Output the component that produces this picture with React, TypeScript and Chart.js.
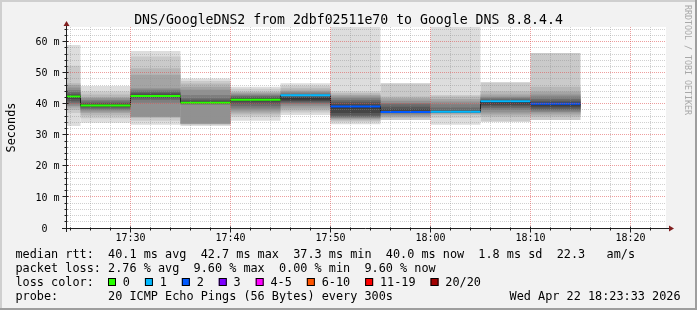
import React, { useEffect, useRef } from "react";
import { Chart, registerables } from "chart.js";

Chart.register(...registerables);

// ---------------- data ----------------
const TITLE = "DNS/GoogleDNS2 from 2dbf02511e70 to Google DNS 8.8.4.4";
const Y_AXIS_TITLE = "Seconds";
const WATERMARK = "RRDTOOL / TOBI OETIKER";

const GRAPH_END = "18:23:33";
const GRAPH_SPAN_MIN = 60;
const STEP_MIN = 5;

// end time of each 5-minute step
const STEP_END = ["17:25", "17:30", "17:35", "17:40", "17:45", "17:50", "17:55", "18:00", "18:05", "18:10", "18:15"];
// median rtt (ms) per step
const MEDIAN_MS = [42.3, 39.4, 42.5, 40.3, 41.3, 42.7, 39.1, 37.3, 37.4, 40.8, 40.0];
// lost pings (of 20) per step
const LOST_PINGS = [0, 0, 0, 0, 0, 1, 2, 2, 1, 1, 2];

// sorted ping rtts (ms) per step, null = lost
const PINGS_1725 = [32.8, 37.0, 38.0, 38.8, 39.3, 39.8, 40.3, 40.8, 41.5, 42.0, 42.3, 42.8, 43.2, 43.8, 44.4, 45.2, 46.0, 46.6, 52.2, 58.9];
const PINGS_1730 = [33.9, 35.3, 36.2, 37.0, 37.5, 38.0, 38.4, 38.8, 39.1, 39.3, 39.5, 39.8, 40.2, 40.7, 41.2, 41.8, 42.1, 43.0, 43.9, 45.7];
const PINGS_1735 = [33.2, 34.5, 35.4, 35.7, 35.8, 40.3, 41.2, 41.8, 42.1, 42.3, 42.5, 43.0, 43.5, 43.9, 44.5, 45.0, 49.3, 51.4, 55.2, 57.0];
const PINGS_1740 = [32.8, 33.2, 33.4, 33.5, 33.6, 39.6, 39.9, 40.1, 40.2, 40.3, 40.4, 40.8, 41.3, 41.8, 42.8, 44.5, 45.5, 46.5, 47.3, 48.1];
const PINGS_1745 = [34.5, 35.8, 36.5, 37.2, 37.8, 38.5, 39.2, 40.0, 40.6, 41.0, 41.5, 41.8, 42.1, 42.5, 42.8, 43.2, 43.6, 43.9, 44.8, 45.5];
const PINGS_1750 = [36.4, 37.2, 37.8, 38.5, 39.2, 39.8, 40.2, 40.6, 41.0, 41.4, 41.8, 42.2, 42.6, 43.0, 43.5, 43.9, 44.3, 45.0, 45.8, 46.6];
const PINGS_1755 = [33.4, 34.2, 34.6, 35.0, 35.3, 35.6, 35.8, 36.2, 37.0, 38.5, 39.3, 39.8, 40.6, 41.2, 41.8, 42.3, 42.8, 43.4, 43.9, 80.0];
const PINGS_1800 = [null, 34.8, 35.5, 35.8, 36.3, 36.8, 37.0, 37.2, 37.3, 37.4, 37.6, 38.2, 39.0, 39.8, 40.2, 41.0, 41.8, 42.3, 46.6, null];
const PINGS_1805 = [33.2, 35.5, 36.4, 36.8, 37.0, 37.1, 37.2, 37.3, 37.35, 37.4, 37.5, 37.7, 38.0, 38.8, 39.8, 40.7, 41.5, 42.3, 42.8, 80.0];
const PINGS_1810 = [null, 34.2, 35.8, 36.5, 37.2, 38.0, 38.6, 39.2, 39.7, 40.2, 40.6, 40.9, 41.2, 41.6, 42.0, 42.3, 43.0, 44.0, 46.9, null];
const PINGS_1815 = [null, 34.8, 35.8, 36.5, 37.2, 37.5, 38.0, 38.5, 39.0, 39.5, 40.0, 40.5, 41.0, 41.5, 42.3, 43.0, 43.9, 45.5, 56.3, null];
const PINGS: (number | null)[][] = [
  PINGS_1725, PINGS_1730, PINGS_1735, PINGS_1740, PINGS_1745, PINGS_1750,
  PINGS_1755, PINGS_1800, PINGS_1805, PINGS_1810, PINGS_1815,
];

const X_TICK_LABELS = ["17:30", "17:40", "17:50", "18:00", "18:10", "18:20"];
const Y_MAX_MS = 64.7;
const Y_TICK_MS = [0, 10, 20, 30, 40, 50, 60];
const Y_TICK_LABELS = ["0", "10 m", "20 m", "30 m", "40 m", "50 m", "60 m"];

const LOSS_LABELS = ["0", "1", "2", "3", "4-5", "6-10", "11-19", "20/20"];
const LOSS_UPPER = [0, 1, 2, 3, 5, 10, 19, 20];
const LOSS_COLORS = ["#26ff00", "#00b8ff", "#0059ff", "#7e00ff", "#ff00ff", "#ff5500", "#ff0000", "#a10000"];

const LEGEND_MEDIAN = "median rtt:  40.1 ms avg  42.7 ms max  37.3 ms min  40.0 ms now  1.8 ms sd  22.3   am/s";
const LEGEND_LOSS = "packet loss: 2.76 % avg  9.60 % max  0.00 % min  9.60 % now";
const LEGEND_LOSS_COLOR = "loss color:";
const LEGEND_PROBE = "probe:       20 ICMP Echo Pings (56 Bytes) every 300s";
const TIMESTAMP = "Wed Apr 22 18:23:33 2026";

// ---------------- helpers ----------------
const W = 697;
const H = 310;
const MONO = '"DejaVu Sans Mono", "Liberation Mono", monospace';

const toMin = (t: string) => {
  const [h, m, s] = t.split(":").map(Number);
  return (h - 17) * 60 + m + (s || 0) / 60;
};
const X_MAX = toMin(GRAPH_END);
const X_MIN = X_MAX - GRAPH_SPAN_MIN;
const X_TICK_MIN = X_TICK_LABELS.map(toMin);
const STEP_END_MIN = STEP_END.map(toMin);
const lossIndex = (n: number) => LOSS_UPPER.findIndex((u) => n <= u);

function buildDatasets() {
  const datasets: any[] = [];
  const half = 10;
  for (let k = 0; k < half; k++) {
    const g = Math.floor((190 / half) * (half - (k + 1))) + 50;
    const hex = g.toString(16).padStart(2, "0");
    const data: any[] = [];
    PINGS.forEach((p, i) => {
      const lo = p[k];
      const hi = p[p.length - 1 - k];
      if (lo == null || hi == null) return;
      data.push({ x: STEP_END_MIN[i] - STEP_MIN / 2, y: [lo, hi] });
    });
    datasets.push({
      type: "bar",
      data,
      backgroundColor: "#" + hex + hex + hex,
      borderWidth: 0,
      grouped: false,
      barPercentage: 1,
      categoryPercentage: 1,
      inflateAmount: 0,
      clip: 0,
      order: 100 - k,
    });
  }
  // dark stepped median line
  const dark: any[] = [];
  MEDIAN_MS.forEach((m, i) => {
    dark.push({ x: STEP_END_MIN[i] - STEP_MIN, y: m });
    dark.push({ x: STEP_END_MIN[i], y: m });
  });
  datasets.push({
    type: "line",
    data: dark,
    borderColor: "#202020",
    borderWidth: 1,
    pointRadius: 0,
    tension: 0,
    fill: false,
    clip: 0,
    order: 2,
  });
  // coloured median (by loss)
  const col: any[] = [];
  MEDIAN_MS.forEach((m, i) => {
    col.push({ x: STEP_END_MIN[i] - STEP_MIN, y: m });
    col.push({ x: STEP_END_MIN[i], y: m });
    col.push({ x: STEP_END_MIN[i], y: null });
  });
  datasets.push({
    type: "line",
    data: col,
    borderColor: LOSS_COLORS[0],
    borderWidth: 2,
    borderCapStyle: "butt",
    pointRadius: 0,
    tension: 0,
    fill: false,
    spanGaps: false,
    clip: 0,
    order: 1,
    segment: {
      borderColor: (ctx: any) => LOSS_COLORS[lossIndex(LOST_PINGS[Math.floor(ctx.p0DataIndex / 3)])],
    },
  });
  return datasets;
}

const rrdPlugin = {
  id: "rrdlook",
  beforeDraw(chart: any) {
    const { ctx, chartArea: a } = chart;
    ctx.save();
    ctx.fillStyle = "#f2f2f2";
    ctx.fillRect(0, 0, W, H);
    ctx.fillStyle = "#cfcfcf";
    ctx.fillRect(0, 0, W, 2);
    ctx.fillRect(0, 0, 2, H);
    ctx.fillStyle = "#9e9e9e";
    ctx.fillRect(0, H - 2, W, 2);
    ctx.fillRect(W - 2, 0, 2, H);
    ctx.fillStyle = "#ffffff";
    ctx.fillRect(a.left, a.top, a.right - a.left, a.bottom - a.top);
    ctx.restore();
  },
  afterDatasetsDraw(chart: any) {
    const { ctx, chartArea: a } = chart;
    const xs = chart.scales.x;
    const ys = chart.scales.y;
    const c = (v: number) => Math.floor(v) + 0.5;
    ctx.save();
    ctx.lineWidth = 1;
    ctx.setLineDash([1, 1]);
    const vline = (m: number) => {
      const x = c(xs.getPixelForValue(m));
      ctx.beginPath();
      ctx.moveTo(x, a.top);
      ctx.lineTo(x, a.bottom);
      ctx.stroke();
    };
    const hline = (v: number) => {
      const y = c(ys.getPixelForValue(v));
      ctx.beginPath();
      ctx.moveTo(a.left, y);
      ctx.lineTo(a.right, y);
      ctx.stroke();
    };
    ctx.strokeStyle = "rgba(143,143,143,0.42)";
    for (let m = Math.ceil(X_MIN / 2) * 2; m <= X_MAX; m += 2) if (m % 10 !== 0) vline(m);
    for (let v = 2; v <= Y_MAX_MS; v += 2) if (v % 10 !== 0) hline(v);
    ctx.strokeStyle = "rgba(222,79,79,0.55)";
    X_TICK_MIN.forEach((m) => vline(m));
    Y_TICK_MS.forEach((v) => v > 0 && hline(v));
    ctx.restore();
  },
  afterDraw(chart: any) {
    const { ctx, chartArea: a } = chart;
    const xs = chart.scales.x;
    const ys = chart.scales.y;
    const x0 = Math.floor(a.left) + 0.5;
    const y0 = Math.floor(ys.getPixelForValue(0)) + 0.5;
    ctx.save();
    // axes
    ctx.strokeStyle = "#1f1f1f";
    ctx.lineWidth = 1;
    ctx.beginPath();
    ctx.moveTo(a.left - 4, y0);
    ctx.lineTo(a.right + 3, y0);
    ctx.moveTo(x0, a.bottom + 4);
    ctx.lineTo(x0, a.top - 1);
    ctx.stroke();
    // ticks
    ctx.beginPath();
    for (let v = 0; v <= Y_MAX_MS; v += 2) {
      const y = Math.floor(ys.getPixelForValue(v)) + 0.5;
      const major = v % 10 === 0;
      ctx.moveTo(x0 - (major ? 4 : 2), y);
      ctx.lineTo(x0 + (major ? 2 : 1), y);
    }
    for (let m = Math.ceil(X_MIN / 2) * 2; m <= X_MAX; m += 2) {
      const x = Math.floor(xs.getPixelForValue(m)) + 0.5;
      const major = m % 10 === 0;
      ctx.moveTo(x, y0 - (major ? 2 : 1));
      ctx.lineTo(x, y0 + (major ? 4 : 2));
    }
    ctx.stroke();
    // arrows
    ctx.fillStyle = "#801f1f";
    ctx.beginPath();
    ctx.moveTo(a.right + 3, y0 - 3);
    ctx.lineTo(a.right + 3, y0 + 3);
    ctx.lineTo(a.right + 8, y0);
    ctx.closePath();
    ctx.fill();
    ctx.beginPath();
    ctx.moveTo(x0 - 3, a.top - 1);
    ctx.lineTo(x0 + 3, a.top - 1);
    ctx.lineTo(x0, a.top - 6);
    ctx.closePath();
    ctx.fill();

    // axis labels
    ctx.fillStyle = "#000";
    ctx.font = "10px " + MONO;
    ctx.textBaseline = "alphabetic";
    ctx.textAlign = "center";
    X_TICK_LABELS.forEach((lab, i) => {
      ctx.fillText(lab, xs.getPixelForValue(X_TICK_MIN[i]), y0 + 12);
    });
    ctx.textAlign = "left";
    const rightEdge = a.left - 6.5;
    Y_TICK_LABELS.forEach((lab, i) => {
      const padded = lab.includes(" ") ? lab : lab + "  ";
      const w = ctx.measureText(padded).width;
      ctx.fillText(lab, rightEdge - w, ys.getPixelForValue(Y_TICK_MS[i]) + 3.6);
    });

    // title
    ctx.font = "13.2px " + MONO;
    ctx.textAlign = "center";
    ctx.fillText(TITLE, W / 2, 24);

    // y title
    ctx.font = "11.84px " + MONO;
    ctx.save();
    ctx.translate(15, (a.top + a.bottom) / 2);
    ctx.rotate(-Math.PI / 2);
    ctx.textAlign = "center";
    ctx.fillText(Y_AXIS_TITLE, 0, 0);
    ctx.restore();

    // watermark
    ctx.save();
    ctx.font = "8.3px " + MONO;
    ctx.fillStyle = "#a8a8a8";
    ctx.translate(684.5, 5);
    ctx.rotate(Math.PI / 2);
    ctx.textAlign = "left";
    ctx.fillText(WATERMARK, 0, 0);
    ctx.restore();

    // legend
    ctx.font = "11.84px " + MONO;
    ctx.textAlign = "left";
    ctx.fillStyle = "#000";
    const lx = 15.5;
    ctx.fillText(LEGEND_MEDIAN, lx, 258);
    ctx.fillText(LEGEND_LOSS, lx, 272);
    ctx.fillText(LEGEND_LOSS_COLOR, lx, 286);
    ctx.fillText(LEGEND_PROBE, lx, 300);
    ctx.textAlign = "right";
    ctx.fillText(TIMESTAMP, 680.5, 300);
    ctx.textAlign = "left";
    let bx = 108;
    LOSS_LABELS.forEach((lab, i) => {
      ctx.fillStyle = LOSS_COLORS[i];
      ctx.fillRect(bx, 278, 8, 8);
      ctx.strokeStyle = "#000";
      ctx.strokeRect(bx + 0.5, 278.5, 7, 7);
      ctx.fillStyle = "#000";
      const tx = bx + 14.8;
      ctx.fillText(lab, tx, 286);
      bx = tx + ctx.measureText(lab).width + 15;
    });
    ctx.restore();
  },
};

export default function App() {
  const ref = useRef<HTMLCanvasElement | null>(null);
  useEffect(() => {
    if (!ref.current) return;
    const chart = new Chart(ref.current, {
      type: "bar",
      data: { datasets: buildDatasets() },
      options: {
        responsive: false,
        animation: false,
        devicePixelRatio: 1,
        layout: { padding: { left: 66, right: W - 666, top: 27, bottom: H - 228 } },
        plugins: { legend: { display: false }, tooltip: { enabled: false } },
        scales: {
          x: {
            type: "linear",
            min: X_MIN,
            max: X_MAX,
            offset: false,
            display: false,
            afterBuildTicks: (s: any) => {
              s.ticks = X_TICK_MIN.map((v) => ({ value: v }));
            },
          },
          y: { type: "linear", min: 0, max: Y_MAX_MS, display: false },
        },
      } as any,
      plugins: [rrdPlugin],
    } as any);
    return () => chart.destroy();
  }, []);
  return (
    <div style={{ position: "fixed", left: 0, top: 0, width: W, height: H }}>
      <canvas ref={ref} width={W} height={H} style={{ display: "block" }} />
    </div>
  );
}
